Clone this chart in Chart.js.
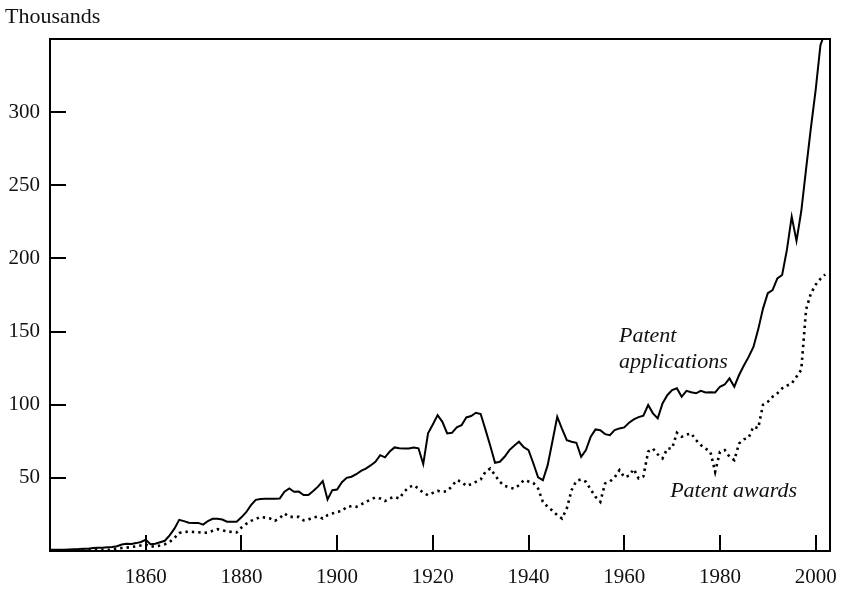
<!DOCTYPE html>
<html>
<head>
<meta charset="utf-8">
<title>Patent applications and awards</title>
<script src="https://cdn.jsdelivr.net/npm/chart.js@4.4.1/dist/chart.umd.min.js"></script>
<style>
  html, body { margin: 0; padding: 0; background: #fff; }
  canvas { display: block; }
</style>
</head>
<body>
<canvas id="patentChart" width="844" height="589"></canvas>
<script>
// thousands per year, 1840 .. 2002
let firstYear = 1840;

let applications = [
  0.8, 0.9, 0.8, 0.8, 1.0, 1.2, 1.3, 1.5, 1.6, 2.0,
  2.2, 2.3, 2.6, 2.7, 3.3, 4.4, 5.0, 4.8, 5.4, 6.2,
  7.7, 4.6, 5.0, 6.0, 7.0, 10.7, 15.3, 21.3, 20.4, 19.3,
  19.2, 19.2, 18.0, 20.5, 22.0, 22.0, 21.5, 20.0, 20.0, 20.0,
  23.0, 26.5, 31.3, 35.0, 35.6, 35.7, 35.7, 35.7, 35.8, 40.5,
  42.7, 40.5, 40.6, 38.2, 38.2, 41.0, 44.0, 47.8, 35.2, 41.6,
  42.0, 47.0, 50.0, 50.8, 52.5, 54.8, 56.3, 58.5, 61.0, 65.5,
  64.0, 68.0, 70.8, 70.3, 70.1, 70.1, 70.8, 70.2, 59.4, 80.4,
  86.5, 92.9, 88.3, 80.4, 80.8, 84.5, 86.0, 91.3, 92.3, 94.5,
  93.6, 83.0, 72.0, 60.3, 61.0, 64.4, 69.0, 72.0, 74.7, 71.0,
  69.0, 60.0, 50.3, 48.4, 58.7, 75.0, 91.8, 83.5, 75.8, 74.7,
  74.0, 64.4, 69.0, 78.1, 83.1, 82.6, 79.9, 79.2, 82.6, 83.8,
  84.5, 87.7, 90.0, 91.5, 92.5, 99.8, 94.1, 90.7, 100.9, 106.5,
  110.0, 111.2, 105.4, 109.5, 108.5, 107.8, 109.5, 108.4, 108.6, 108.4,
  112.3, 113.8, 118.0, 112.3, 120.3, 126.8, 132.7, 139.5, 151.5, 165.7,
  176.2, 178.4, 186.4, 188.7, 206.0, 228.6, 212.0, 232.4, 261.0, 289.0,
  315.0, 345.7, 355.0
];

let awards = [
  0.5, 0.5, 0.5, 0.5, 0.5, 0.5, 0.6, 0.6, 0.7, 1.0,
  1.0, 0.8, 0.9, 0.9, 1.8, 2.0, 2.3, 2.7, 3.2, 3.8,
  4.4, 3.0, 3.2, 3.8, 4.6, 6.1, 8.9, 12.3, 13.0, 13.2,
  13.0, 12.8, 12.4, 12.6, 13.8, 14.9, 14.2, 13.5, 13.0, 12.7,
  16.0, 18.5, 20.6, 21.8, 23.3, 22.8, 22.2, 20.6, 22.5, 25.6,
  23.3, 23.3, 23.3, 21.0, 21.5, 22.9, 23.6, 22.2, 24.5, 25.6,
  26.8, 27.3, 30.2, 30.6, 30.2, 31.8, 33.5, 35.2, 36.6, 35.9,
  34.1, 36.0, 37.0, 35.9, 40.5, 43.5, 45.0, 42.7, 39.7, 38.2,
  39.7, 41.1, 40.4, 41.0, 44.3, 48.4, 47.3, 44.5, 45.7, 47.3,
  48.9, 54.1, 56.4, 51.9, 47.3, 44.5, 43.4, 42.7, 45.0, 48.4,
  47.5, 46.5, 42.7, 33.6, 30.2, 27.5, 24.5, 22.2, 29.1, 41.6,
  48.0, 48.9, 47.3, 42.0, 37.0, 33.6, 46.2, 47.5, 50.3, 55.3,
  50.5, 51.5, 56.0, 49.6, 51.0, 68.0, 70.0, 66.0, 63.3, 70.1,
  70.1, 80.8, 78.1, 79.5, 80.4, 75.8, 72.5, 70.0, 67.8, 54.1,
  67.8, 69.0, 64.4, 62.1, 73.5, 76.3, 77.5, 85.0, 84.0, 100.0,
  102.0, 105.4, 107.8, 111.2, 113.0, 114.6, 119.1, 124.0, 165.0, 176.0,
  182.0, 186.0, 189.0
];

let xTicks = [1860, 1880, 1900, 1920, 1940, 1960, 1980, 2000];
let yTicks = [50, 100, 150, 200, 250, 300];

let years = applications.map((_, i) => firstYear + i);

function toPoints(values) {
  return values.map((v, i) => ({ x: years[i], y: v }));
}

let serif = "'Liberation Serif', 'Times New Roman', serif";

// frame, inward tick marks and the text labels
let framePlugin = {
  id: 'frame',
  afterDraw(chart) {
    let ctx = chart.ctx;
    let a = chart.chartArea;
    let xs = chart.scales.x;
    let ys = chart.scales.y;
    ctx.save();
    ctx.strokeStyle = '#000';
    ctx.lineWidth = 2;
    ctx.strokeRect(a.left, a.top, a.right - a.left, a.bottom - a.top);

    ctx.beginPath();
    yTicks.forEach(v => {
      let py = Math.round(ys.getPixelForValue(v));
      ctx.moveTo(a.left, py);
      ctx.lineTo(a.left + 16, py);
    });
    xTicks.forEach(v => {
      let px = Math.round(xs.getPixelForValue(v));
      ctx.moveTo(px, a.bottom);
      ctx.lineTo(px, a.bottom - 16);
    });
    ctx.stroke();

    ctx.fillStyle = '#111';
    ctx.textBaseline = 'alphabetic';
    ctx.textAlign = 'left';
    ctx.font = '22px ' + serif;
    ctx.fillText('Thousands', 5, 23);

    ctx.font = 'italic 22px ' + serif;
    ctx.fillText('Patent', xs.getPixelForValue(1958.9), ys.getPixelForValue(143));
    ctx.fillText('applications', xs.getPixelForValue(1958.9), ys.getPixelForValue(125));
    ctx.fillText('Patent awards', xs.getPixelForValue(1969.6), ys.getPixelForValue(37));
    ctx.restore();
  }
};

let chart = new Chart(document.getElementById('patentChart').getContext('2d'), {
  type: 'line',
  data: {
    datasets: [
      {
        label: 'Patent applications',
        data: toPoints(applications),
        borderColor: '#000',
        borderWidth: 2,
        pointRadius: 0,
        tension: 0
      },
      {
        label: 'Patent awards',
        data: toPoints(awards),
        borderColor: '#000',
        borderWidth: 2.6,
        borderDash: [2.4, 4],
        borderCapStyle: 'butt',
        pointRadius: 0,
        tension: 0
      }
    ]
  },
  options: {
    responsive: false,
    animation: false,
    layout: { padding: { top: 39, right: 14, left: 0, bottom: 0 } },
    plugins: {
      legend: { display: false },
      tooltip: { enabled: false }
    },
    scales: {
      x: {
        type: 'linear',
        min: 1840,
        max: 2003,
        grid: { display: false },
        border: { display: false },
        afterBuildTicks: scale => { scale.ticks = xTicks.map(v => ({ value: v })); },
        afterFit: scale => { scale.height = 38; },
        ticks: {
          color: '#111',
          padding: 6,
          maxRotation: 0,
          font: { family: serif, size: 21 },
          callback: v => String(v)
        }
      },
      y: {
        min: 0,
        max: 350,
        grid: { display: false },
        border: { display: false },
        afterBuildTicks: scale => { scale.ticks = yTicks.map(v => ({ value: v })); },
        afterFit: scale => { scale.width = 50; },
        ticks: {
          color: '#111',
          padding: 2,
          font: { family: serif, size: 21 },
          callback: v => String(v)
        }
      }
    }
  },
  plugins: [framePlugin]
});
</script>
</body>
</html>
